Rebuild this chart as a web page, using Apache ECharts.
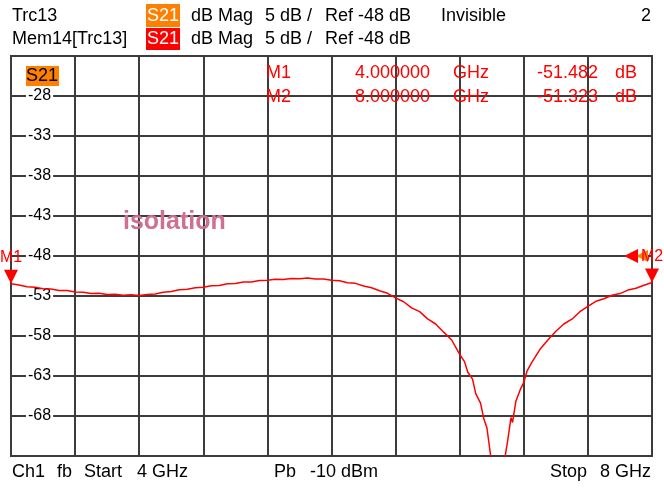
<!DOCTYPE html>
<html>
<head>
<meta charset="utf-8">
<title>Trc13 S21 isolation</title>
<script src="https://cdn.jsdelivr.net/npm/echarts@6.0.0/dist/echarts.min.js"></script>
<style>
  html, body { margin: 0; padding: 0; background: #fff; }
  #chart { width: 664px; height: 488px; }
</style>
</head>
<body>
<div id="chart"></div>
<script>
const freqGHz = [
  4.00, 4.05, 4.10, 4.15, 4.20, 4.25, 4.30, 4.35, 4.40, 4.45,
  4.50, 4.55, 4.60, 4.65, 4.70, 4.75, 4.80, 4.85, 4.90, 4.95,
  5.00, 5.05, 5.10, 5.15, 5.20, 5.25, 5.30, 5.35, 5.40, 5.45,
  5.50, 5.55, 5.60, 5.65, 5.70, 5.75, 5.80, 5.85, 5.90, 5.95,
  6.00, 6.05, 6.10, 6.15, 6.20, 6.25, 6.30, 6.35, 6.40, 6.45,
  6.50, 6.55, 6.60, 6.65, 6.70, 6.75, 6.80, 6.83, 6.85, 6.88,
  6.90, 6.93, 6.95, 6.97, 7.00, 7.05, 7.08, 7.10, 7.12, 7.13,
  7.15, 7.18, 7.20, 7.22, 7.25, 7.30, 7.35, 7.40, 7.45, 7.50,
  7.55, 7.60, 7.65, 7.70, 7.75, 7.80, 7.85, 7.90, 7.95, 8.00
];
const s21dB = [
  -51.48, -51.62, -51.85, -51.90, -52.10, -52.12, -52.30, -52.32, -52.50, -52.52,
  -52.68, -52.66, -52.82, -52.78, -52.90, -52.84, -52.95, -52.80, -52.76, -52.52,
  -52.45, -52.22, -52.16, -51.96, -51.92, -51.72, -51.70, -51.46, -51.44, -51.26,
  -51.24, -51.06, -51.04, -50.92, -50.94, -50.80, -50.84, -50.76, -50.86, -50.88,
  -51.04, -51.10, -51.34, -51.42, -51.74, -51.96, -52.34, -52.66, -53.24, -53.72,
  -54.48, -54.96, -55.86, -56.50, -57.52, -58.50, -60.30, -61.20, -62.50, -63.40,
  -65.20, -66.40, -68.30, -69.50, -74.00, -77.00, -73.50, -71.00, -68.20, -68.80,
  -66.20, -64.60, -63.80, -62.40, -61.30, -59.70, -58.50, -57.40, -56.50, -55.90,
  -54.96, -54.30, -53.66, -53.34, -52.90, -52.70, -52.26, -52.04, -51.66, -51.32
];

const markerNames = ['M1', 'M2'];
const markerFreq = [4.0, 8.0];
const markerVal = [-51.482, -51.323];
const refLevel = -48;

// screen scale: 5 dB/div, 10 divisions, -73 .. -23 dB
const yMin = -73;
const yMax = -23;
const yStep = 5;
// ECharts starts ticks on multiples of the interval, so the axis runs
// on values shifted by +3 and the labels shift them back
const Y_SHIFT = 3;

const chart = echarts.init(document.getElementById('chart'));

const FONT = '18px "Liberation Sans", Arial, sans-serif';
const RED = '#ff0000';
const ORANGE = '#ff8000';

function txt(x, y, text, color, align, font) {
  return {
    type: 'text',
    x: x,
    y: y,
    z: 10,
    style: {
      text: text,
      font: font || FONT,
      fill: color || '#000',
      align: align || 'left',
      verticalAlign: 'middle'
    }
  };
}

function box(x, y, w, h, color) {
  return {
    type: 'rect',
    z: 9,
    shape: { x: x, y: y, width: w, height: h },
    style: { fill: color }
  };
}

const markPoints = markerNames.map((name, i) => ({
  name: name,
  coord: [markerFreq[i], markerVal[i] + Y_SHIFT],
  symbol: 'triangle',
  symbolSize: [14, 14],
  symbolRotate: 180,
  symbolOffset: [0, -7],
  itemStyle: { color: RED },
  label: {
    show: true,
    formatter: name,
    position: 'top',
    distance: 4,
    color: RED,
    fontSize: 16,
    fontFamily: 'Liberation Sans'
  }
}));
// reference level arrows on the right edge
markPoints.push({
  coord: [8, refLevel + Y_SHIFT],
  symbol: 'triangle',
  symbolSize: [12, 12],
  symbolRotate: 90,
  symbolOffset: [-10, 0],
  itemStyle: { color: ORANGE },
  label: { show: false }
});
markPoints.push({
  coord: [8, refLevel + Y_SHIFT],
  symbol: 'triangle',
  symbolSize: [14, 14],
  symbolRotate: 90,
  symbolOffset: [-21, 0],
  itemStyle: { color: RED },
  label: { show: false }
});

const option = {
  animation: false,
  backgroundColor: '#fff',
  grid: {
    left: 11,
    right: 12,
    top: 56,
    bottom: 32,
    show: true,
    borderColor: '#3c3c3c',
    borderWidth: 2,
    outerBoundsMode: 'none'
  },
  xAxis: {
    type: 'value',
    min: 4,
    max: 8,
    interval: 0.4,
    axisLine: { show: false },
    axisTick: { show: false },
    axisLabel: { show: false },
    splitLine: { show: true, lineStyle: { color: '#3c3c3c', width: 2 } }
  },
  yAxis: {
    type: 'value',
    min: yMin + Y_SHIFT,
    max: yMax + Y_SHIFT,
    interval: yStep,
    axisLine: { show: false },
    axisTick: { show: false },
    splitLine: { show: true, lineStyle: { color: '#3c3c3c', width: 2 } },
    axisLabel: {
      inside: true,
      margin: 15,
      fontSize: 16,
      fontFamily: 'Liberation Sans',
      color: '#000',
      backgroundColor: '#fff',
      padding: [0, 2],
      showMinLabel: false,
      showMaxLabel: false,
      formatter: (v) => {
        const real = Math.round(v - Y_SHIFT);
        return (real === yMin || real === yMax) ? '' : String(real);
      }
    }
  },
  series: [
    {
      name: 'S21',
      type: 'line',
      data: freqGHz.map((f, i) => [f, s21dB[i] + Y_SHIFT]),
      showSymbol: false,
      clip: true,
      lineStyle: { color: RED, width: 1.5 },
      markPoint: { data: markPoints }
    }
  ],
  graphic: [
    // header row 1
    txt(12, 16, 'Trc13'),
    box(146, 4, 34, 23, ORANGE),
    txt(163, 16, 'S21', '#fff', 'center'),
    txt(191, 16, 'dB Mag'),
    txt(265, 16, '5 dB /'),
    txt(325, 16, 'Ref -48 dB'),
    txt(441, 16, 'Invisible'),
    txt(651, 16, '2', '#000', 'right'),
    // header row 2
    txt(12, 39, 'Mem14[Trc13]'),
    box(146, 28, 34, 22, RED),
    txt(163, 39, 'S21', '#fff', 'center'),
    txt(191, 39, 'dB Mag'),
    txt(265, 39, '5 dB /'),
    txt(325, 39, 'Ref -48 dB'),
    // trace tag in the plot
    box(26, 66, 33, 20, ORANGE),
    txt(42, 76, 'S21', '#000', 'center'),
    // marker table
    txt(266, 73, 'M1', RED),
    txt(355, 73, '4.000000', RED),
    txt(453, 73, 'GHz', RED),
    txt(598, 73, '-51.482', RED, 'right'),
    txt(615, 73, 'dB', RED),
    txt(266, 97, 'M2', RED),
    txt(355, 97, '8.000000', RED),
    txt(453, 97, 'GHz', RED),
    txt(598, 97, '-51.323', RED, 'right'),
    txt(615, 97, 'dB', RED),
    // trace annotation
    txt(123, 222, 'isolation', '#d07090', 'left', 'bold 25px "Liberation Sans", Arial, sans-serif'),
    // footer
    txt(12, 472, 'Ch1'),
    txt(57, 472, 'fb'),
    txt(84, 472, 'Start'),
    txt(137, 472, '4 GHz'),
    txt(274, 472, 'Pb'),
    txt(310, 472, '-10 dBm'),
    txt(550, 472, 'Stop'),
    txt(651, 472, '8 GHz', '#000', 'right')
  ]
};

chart.setOption(option);
</script>
</body>
</html>
